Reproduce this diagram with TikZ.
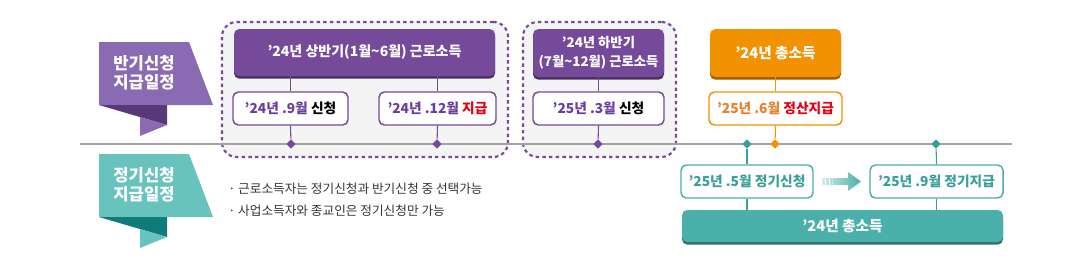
\documentclass[tikz,border=0pt]{standalone}
\usepackage{fontspec}
\setmainfont{Noto Sans CJK KR}
\usetikzlibrary{shapes.geometric}
\newcommand\apq{\symbol{39}}
\definecolor{hp}{HTML}{754A9B}
\definecolor{rp}{HTML}{8A6AB3}
\definecolor{rpd}{HTML}{583879}
\definecolor{rt}{HTML}{68C3BD}
\definecolor{rtd}{HTML}{117A7B}
\definecolor{tl}{HTML}{4BAFAA}
\definecolor{tt}{HTML}{3A9F9A}
\definecolor{og}{HTML}{F39200}
\definecolor{ogt}{HTML}{E8802A}
\definecolor{rd}{HTML}{E60012}
\definecolor{ptx}{HTML}{6B3FA0}
\definecolor{gl}{HTML}{A3A3A3}
\definecolor{bgg}{HTML}{F4F4F4}
\definecolor{dk}{HTML}{333333}
\tikzset{
  dbox/.style={draw=hp, line width=1.6pt, dash pattern=on 2.6pt off 2.4pt, fill=bgg, rounded corners=11pt},
  hdr/.style={fill=#1, rounded corners=4pt, text=white, font=\bfseries\fontsize{10.5}{13}\selectfont, align=center, inner sep=0pt,
     preaction={fill=#1!65!black, transform canvas={yshift=-2pt}}},
  sub/.style={draw=#1, line width=1.1pt, fill=white, rounded corners=4pt, font=\bfseries\fontsize{10.3}{12}\selectfont, inner sep=0pt},
  dia/.style={diamond, fill=#1, inner sep=0pt, minimum width=7pt, minimum height=7pt},
  vl/.style={draw=#1, line width=0.8pt},
  ribtext/.style={text=white, font=\bfseries\fontsize{12.5}{14.5}\selectfont, align=center},
  bul/.style={text=dk, font=\fontsize{9.5}{11}\selectfont, anchor=west, inner sep=0pt}
}
\begin{document}
\begin{tikzpicture}[x=0.75pt,y=-0.75pt]
\useasboundingbox (0,0) rectangle (1087,276);
% ribbons
\fill[rp] (99,42) -- (189,42) -- (213,105) -- (99,105) -- cycle;
\fill[rpd] (99,105) -- (167,105) -- (167,125) -- cycle;
\fill[rp] (140,117) -- (167,125) -- (140,136) -- cycle;
\fill[rt] (99,154) -- (189,154) -- (213,217) -- (99,217) -- cycle;
\fill[rtd] (99,217) -- (167,217) -- (167,237) -- cycle;
\fill[rt] (140,229) -- (167,237) -- (140,248) -- cycle;
\node[ribtext] (r1) at (144,73) {반기신청\\지급일정};
\node[ribtext] (r2) at (144,185) {정기신청\\지급일정};
% dashed groups
\node[dbox, minimum width={286*0.75pt}, minimum height={135*0.75pt}] (g1) at (365,89.5) {};
\node[dbox, minimum width={153*0.75pt}, minimum height={135*0.75pt}] (g2) at (599.5,89.5) {};
% timeline
\coordinate (lL) at (80,144);
\coordinate (lR) at (1012,144);
\draw[gl, line width=1.6pt] (lL) -- (lR);
% headers
\node[hdr=hp, minimum width={261*0.75pt}, minimum height={47*0.75pt}] (h1) at (364.5,52.5) {\apq24년 상반기(1월\textasciitilde6월) 근로소득};
\node[hdr=hp, minimum width={131*0.75pt}, minimum height={48*0.75pt}, font=\bfseries\fontsize{10}{14}\selectfont] (h2) at (598.5,53) {\apq24년 하반기\\(7월\textasciitilde12월) 근로소득};
\node[hdr=og, minimum width={131*0.75pt}, minimum height={48*0.75pt}, font=\bfseries\fontsize{11}{13}\selectfont] (h3) at (775.5,53) {\apq24년 총소득};
% sub boxes
\node[sub=hp, minimum width={115*0.75pt}, minimum height={33*0.75pt}] (a) at (290.5,108.5) {\textcolor{ptx}{\apq24년 .9월} 신청};
\node[sub=hp, minimum width={117*0.75pt}, minimum height={33*0.75pt}] (b) at (437.5,108.5) {\textcolor{ptx}{\apq24년 .12월} \textcolor{rd}{지급}};
\node[sub=hp, minimum width={131*0.75pt}, minimum height={33*0.75pt}] (c) at (598.5,108.5) {\textcolor{ptx}{\apq25년 .3월} 신청};
\node[sub=og, minimum width={133*0.75pt}, minimum height={33*0.75pt}] (d) at (775.5,108.5) {\textcolor{ogt}{\apq25년 .6월} \textcolor{rd}{정산지급}};
\node[sub=tl, minimum width={132*0.75pt}, minimum height={33*0.75pt}, text=tt] (t1) at (747,181.5) {\apq25년 .5월 정기신청};
\node[sub=tl, minimum width={133*0.75pt}, minimum height={33*0.75pt}, text=tt] (t2) at (936.5,181.5) {\apq25년 .9월 정기지급};
\node[hdr=tl, minimum width={321*0.75pt}, minimum height={32*0.75pt}, font=\bfseries\fontsize{11}{13}\selectfont] (bar) at (842.5,226) {\apq24년 총소득};
% diamonds
\node[dia=hp] (k1) at (291,144) {};
\node[dia=hp] (k2) at (437,144) {};
\node[dia=hp] (k3) at (598,144) {};
\node[dia=og] (k4) at (775,144) {};
\node[dia=tt] (k5) at (747,144) {};
\node[dia=tt] (k6) at (936,144) {};
% connectors
\draw[vl=hp] (h1.south -| a.north) -- (a.north);
\draw[vl=hp] (a.south) -- (k1);
\draw[vl=hp] (h1.south -| b.north) -- (b.north);
\draw[vl=hp] (b.south) -- (k2);
\draw[vl=hp] (h2.south) -- (c.north);
\draw[vl=hp] (c.south) -- (k3);
\draw[vl=og] (h3.south) -- (d.north);
\draw[vl=og] (d.south) -- (k4);
\draw[vl=tt] (k5) -- (t1.north);
\draw[vl=tt] (t1.south) -- (bar.north -| t1.south);
\draw[vl=tt] (k6) -- (t2.north);
\draw[vl=tt] (t2.south) -- (bar.north -| t2.south);
% gradient arrow
\shade[left color=tl!25, right color=tl]
  (822,178) rectangle (825,185)
  (826,178) rectangle (829,185)
  (830,178) rectangle (832.5,185)
  (833,178) -- (848,178) -- (848,172) -- (861,181.5) -- (848,191) -- (848,185) -- (833,185) -- cycle;
% bullets
\node[bul] (n1) at (228,189) {·\ 근로소득자는 정기신청과 반기신청 중 선택가능};
\node[bul] (n2) at (228,211) {·\ 사업소득자와 종교인은 정기신청만 가능};
\end{tikzpicture}
\end{document}
